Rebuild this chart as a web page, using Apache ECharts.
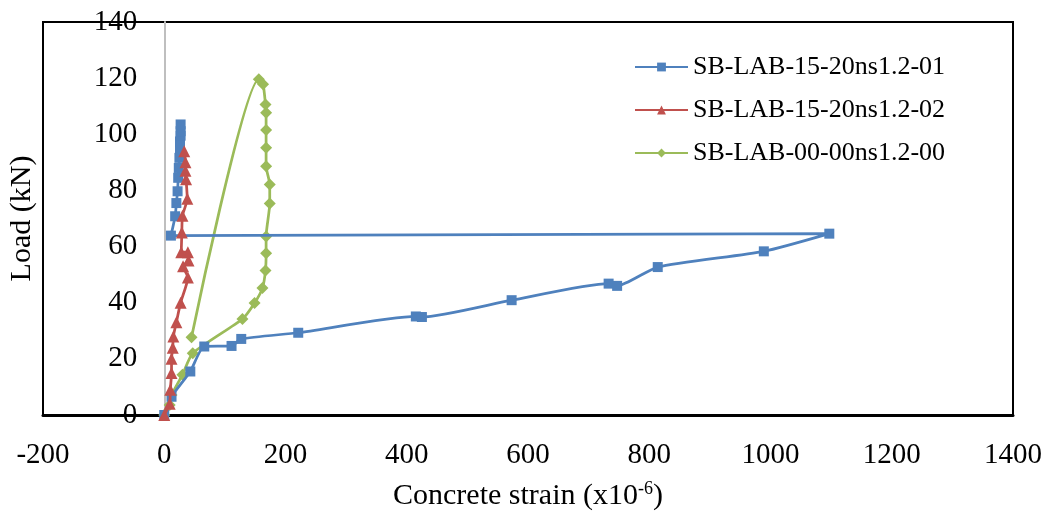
<!DOCTYPE html>
<html>
<head>
<meta charset="utf-8">
<script src="https://cdn.jsdelivr.net/npm/echarts@6/dist/echarts.min.js"></script>
<style>
html,body{margin:0;padding:0;background:#fff;}
#chart{width:1051px;height:515px;}
</style>
</head>
<body>
<div id="chart"></div>
<script>
const seriesNames = ['SB-LAB-15-20ns1.2-01', 'SB-LAB-15-20ns1.2-02', 'SB-LAB-00-00ns1.2-00'];

const blueStrain = [0, 12, 43, 66, 111, 127, 221, 415, 425, 573, 733, 747, 814, 989, 1097, 11, 18, 20, 22, 23, 24, 25, 26, 26, 27, 27, 27];
const blueLoad   = [0, 6.5, 15.5, 24.4, 24.6, 27.1, 29.3, 35.1, 34.9, 40.9, 46.8, 46.0, 52.7, 58.3, 64.6, 63.9, 70.8, 75.5, 79.7, 84.5, 88, 91.6, 95, 97.5, 99.5, 101.1, 103.5];

const redStrain = [0, 9, 10, 12, 12, 14, 15, 20, 27, 39, 31, 40, 39, 28, 29, 30, 38, 36, 35, 35, 33];
const redLoad   = [0, 4, 9, 15, 20, 24, 28, 33, 40, 49, 53, 55, 58, 58, 65, 71, 77, 84, 87, 90, 94];

const greenStrain = [0, 9, 12, 30, 47, 129, 149, 162, 167, 168, 168, 174, 174, 168, 168, 168, 168, 167, 163, 156, 45];
const greenLoad   = [0, 3.6, 7.1, 14.3, 22, 34.2, 39.9, 45.2, 51.5, 57.6, 63.6, 75.3, 82.1, 88.6, 95.2, 101.5, 107.7, 110.6, 117.8, 119.6, 27.7];

const xTicks = {min: -200, max: 1400, interval: 200};
const yTicks = {min: 0, max: 140, interval: 20};

function zip(a, b) { return a.map((v, i) => [v, b[i]]); }

const FONT = '"Liberation Serif", "Times New Roman", serif';
const GRID = {left: 43, right: 38, top: 22, bottom: 100};
const chartW = 1051;
// pixel distance from grid left edge to strain = 0 (where the vertical axis sits)
const zeroOffset = (0 - xTicks.min) / (xTicks.max - xTicks.min) * (chartW - GRID.left - GRID.right);

const chart = echarts.init(document.getElementById('chart'), null, {renderer: 'canvas'});

chart.setOption({
  animation: false,
  backgroundColor: '#fff',
  textStyle: {fontFamily: FONT, color: '#000'},
  grid: Object.assign({show: true, borderColor: '#000', borderWidth: 2,
         containLabel: false, outerBoundsMode: 'none'}, GRID),
  legend: {
    orient: 'vertical', left: 629, top: 49,
    itemWidth: 53, itemHeight: 11, itemGap: 17,
    textStyle: {fontSize: 26, fontFamily: FONT, color: '#000'},
    data: seriesNames
  },
  xAxis: {
    type: 'value', min: xTicks.min, max: xTicks.max, interval: xTicks.interval,
    splitLine: {show: false},
    axisTick: {show: false},
    axisLine: {show: true, onZero: false, lineStyle: {color: '#000', width: 3}},
    axisLabel: {fontSize: 29, fontFamily: FONT, color: '#000', margin: 26, formatter: v => String(v),
                showMinLabel: true, showMaxLabel: true, hideOverlap: false},
    name: 'Concrete strain (x10{sup|-6})',
    nameLocation: 'middle', nameGap: 65,
    nameTextStyle: {
      fontSize: 30, fontFamily: FONT, color: '#000',
      rich: {sup: {fontSize: 18, fontFamily: FONT, color: '#000', padding: [0, 0, 14, 0]}}
    }
  },
  yAxis: {
    type: 'value', min: yTicks.min, max: yTicks.max, interval: yTicks.interval,
    offset: -zeroOffset,
    splitLine: {show: false},
    axisTick: {show: false},
    axisLine: {show: true, onZero: false, lineStyle: {color: '#BFBFBF', width: 2}},
    axisLabel: {fontSize: 29, fontFamily: FONT, color: '#000', margin: 27, formatter: v => String(v),
                showMinLabel: true, showMaxLabel: true, hideOverlap: false},
    name: 'Load (kN)', nameLocation: 'middle', nameGap: 127,
    nameTextStyle: {fontSize: 30, fontFamily: FONT, color: '#000'}
  },
  series: [
    {
      name: seriesNames[0], type: 'line', data: zip(blueStrain, blueLoad),
      smooth: 0.2, symbol: 'rect', symbolSize: 10, z: 3,
      lineStyle: {color: '#4F81BD', width: 2.75}, itemStyle: {color: '#4F81BD'}
    },
    {
      name: seriesNames[1], type: 'line', data: zip(redStrain, redLoad),
      smooth: 0.2, symbol: 'triangle', symbolSize: 12, z: 4,
      lineStyle: {color: '#C0504D', width: 2.75}, itemStyle: {color: '#C0504D'}
    },
    {
      name: seriesNames[2], type: 'line', data: zip(greenStrain, greenLoad),
      smooth: 0.2, symbol: 'diamond', symbolSize: 12, z: 2,
      lineStyle: {color: '#9BBB59', width: 2.75}, itemStyle: {color: '#9BBB59'}
    }
  ]
});
</script>
</body>
</html>
